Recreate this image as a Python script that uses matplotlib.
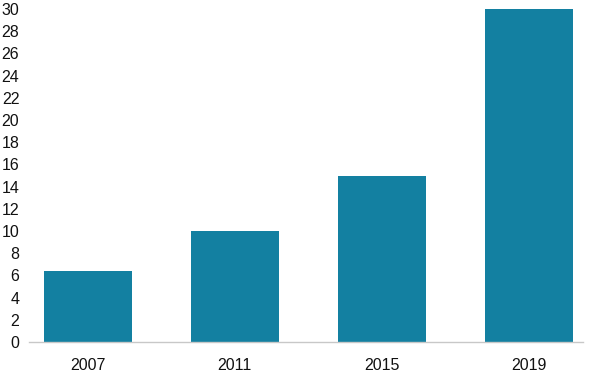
import matplotlib
matplotlib.use("Agg")
import matplotlib.pyplot as plt

years = ["2007", "2011", "2015", "2019"]
values = [6.4, 10.0, 15.0, 30.0]
yticks = list(range(0, 31, 2))

plt.rcParams['font.family'] = ['Liberation Sans', 'DejaVu Sans']

fig = plt.figure(figsize=(5.92, 3.74), dpi=100)
ax = fig.add_axes([29/592, 1 - 342/374, (583 - 29)/592, (342 - 9)/374])
x = list(range(len(years)))
ax.bar(x, values, width=0.6, color="#1380A1")
ax.set_xlim(-0.40, 3.37)
ax.set_ylim(0, 30)
ax.set_xticks(x)
ax.set_xticklabels(years, fontsize=11.5, color="#111111")
ax.set_yticks(yticks)
ax.set_yticklabels([str(t) for t in yticks], fontsize=11.5, color="#111111")
for s in ["top", "right", "left"]:
    ax.spines[s].set_visible(False)
ax.spines["bottom"].set_color("#c8c8c8")
ax.spines["bottom"].set_linewidth(1)
ax.tick_params(axis="both", length=0)
ax.tick_params(axis="x", pad=11.5)
ax.tick_params(axis="y", pad=7)
fig.savefig("out.png", dpi=100)
